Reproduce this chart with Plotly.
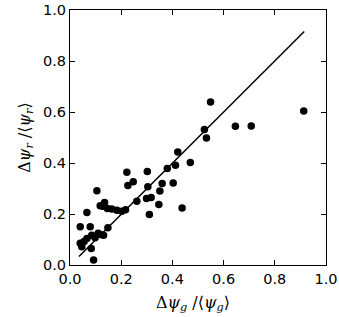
import plotly.graph_objects as go

# scatter data (Δψ_g/<ψ_g>, Δψ_r/<ψ_r>)
x_vals = [0.040, 0.079, 0.066, 0.040, 0.046, 0.066, 0.085, 0.098, 0.118, 0.131,
          0.148, 0.083, 0.092, 0.105, 0.118, 0.135, 0.128, 0.146, 0.163, 0.183,
          0.202, 0.217, 0.222, 0.226, 0.247, 0.261, 0.299, 0.317, 0.302, 0.304,
          0.310, 0.347, 0.351, 0.360, 0.380, 0.403, 0.412, 0.421, 0.438, 0.470,
          0.525, 0.533, 0.549, 0.646, 0.708, 0.913, 0.055, 0.110]
y_vals = [0.150, 0.150, 0.206, 0.085, 0.072, 0.104, 0.117, 0.107, 0.120, 0.117,
          0.146, 0.065, 0.020, 0.291, 0.232, 0.245, 0.230, 0.222, 0.220, 0.215,
          0.211, 0.217, 0.364, 0.312, 0.326, 0.250, 0.261, 0.265, 0.367, 0.307,
          0.198, 0.237, 0.290, 0.320, 0.378, 0.322, 0.391, 0.443, 0.224, 0.402,
          0.531, 0.498, 0.639, 0.544, 0.545, 0.604, 0.092, 0.125]

# fitted line endpoints
fit_x = [0.035, 0.915]
fit_y = [0.033, 0.916]

ticks = [0.0, 0.2, 0.4, 0.6, 0.8, 1.0]
tick_text = ["0.0", "0.2", "0.4", "0.6", "0.8", "1.0"]

x_title = "Δ<i>ψ</i><sub><i>g</i></sub> /⟨<i>ψ</i><sub><i>g</i></sub>⟩"
y_title = "Δ<i>ψ</i><sub><i>r</i></sub> /⟨<i>ψ</i><sub><i>r</i></sub>⟩"

fig = go.Figure()
fig.add_trace(go.Scatter(x=fit_x, y=fit_y, mode="lines",
                         line=dict(color="black", width=1.5), showlegend=False))
fig.add_trace(go.Scatter(x=x_vals, y=y_vals, mode="markers",
                         marker=dict(color="black", size=7.5, line=dict(width=0)),
                         showlegend=False))

axis_common = dict(range=[0, 1], tickvals=ticks, ticktext=tick_text,
                   showgrid=False, zeroline=False, showline=True, mirror="allticks",
                   linecolor="black", linewidth=1.2, ticks="inside", ticklen=5,
                   tickcolor="black", tickwidth=1, automargin=False,
                   tickfont=dict(family="DejaVu Sans", size=14.5, color="black"))

fig.update_layout(
    width=339, height=317,
    margin=dict(l=70, r=13, t=10, b=52, autoexpand=False),
    paper_bgcolor="white", plot_bgcolor="white",
    xaxis=dict(**axis_common),
    yaxis=dict(**axis_common),
    annotations=[
        dict(text=x_title, x=0.48, y=-0.1, xref="paper", yref="paper",
             xanchor="center", yanchor="top", showarrow=False,
             font=dict(family="DejaVu Serif", size=16, color="black")),
        dict(text=y_title, x=-0.175, y=0.5, xref="paper", yref="paper",
             xanchor="center", yanchor="middle", showarrow=False, textangle=-90,
             font=dict(family="DejaVu Serif", size=16, color="black")),
    ],
)

fig.write_html("out.html", config={"displayModeBar": False},
               post_script="document.body.style.margin='0';")
